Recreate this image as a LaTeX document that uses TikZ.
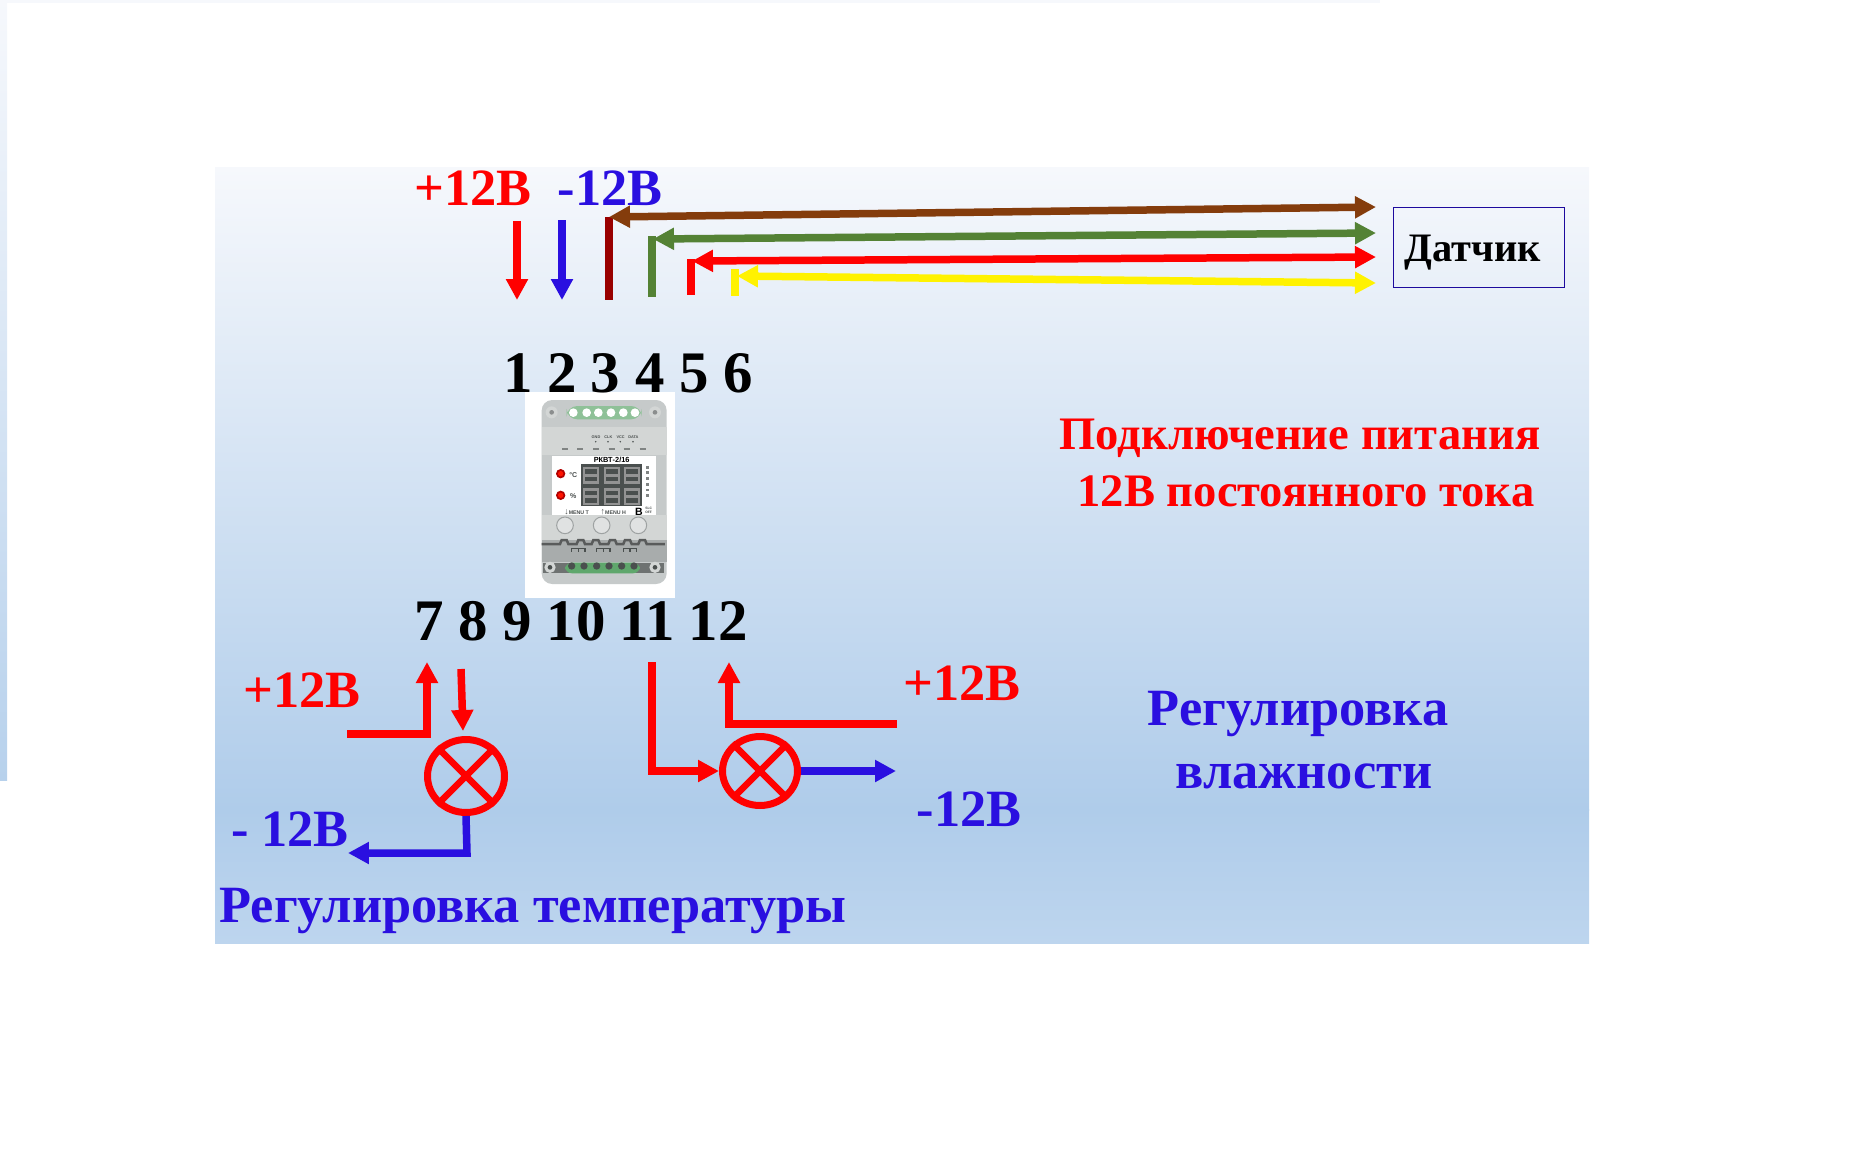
\documentclass[tikz,border=0pt]{standalone}
\usepackage{fontspec}
\setmainfont{Liberation Serif}
\newfontfamily\devfont{Liberation Sans}
\usetikzlibrary{arrows.meta,shapes.geometric}
\definecolor{wireblue}{HTML}{2A0FE0}
\definecolor{wirebrown}{HTML}{843C0C}
\definecolor{wiredark}{HTML}{990000}
\definecolor{wiregreen}{HTML}{548235}
\definecolor{paneltop}{HTML}{F6F8FC}
\definecolor{panelmid}{HTML}{AFCCEA}
\definecolor{panelend}{HTML}{BDD5EE}
\definecolor{devgrey}{HTML}{C6CACA}
\definecolor{devlight}{HTML}{D3D6D5}
\definecolor{devdark}{HTML}{4A4F4E}
\definecolor{devgreen}{HTML}{5FA76C}
\tikzset{
  wire/.style={line width=0.15cm},
  onehead/.style={wire,-{Triangle[length=0.42cm,width=0.42cm]}},
  twohead/.style={wire,{Triangle[length=0.42cm,width=0.42cm]}-{Triangle[length=0.42cm,width=0.42cm]}},
  volt/.style={anchor=base,inner sep=0pt,font=\bfseries\fontsize{29.8}{36}\selectfont},
  power/.style={anchor=base,inner sep=0pt,red,font=\bfseries\fontsize{26.5}{32}\selectfont},
  pinlabel/.style={anchor=base,inner sep=0pt,font=\bfseries\fontsize{33.5}{38}\selectfont},
  lamp/.style={ellipse,draw=red,line width=0.14cm,inner sep=0pt},
  lampcross/.style={draw=red,line width=0.13cm},
  seg/.style={draw=gray!85!white,line width=0.5mm},
  devtext/.style={inner sep=0pt,font=\devfont\bfseries\fontsize{#1}{#1}\selectfont},
}
\begin{document}
\begin{tikzpicture}[x=0.02cm,y=-0.02cm]
  \useasboundingbox (0,0) rectangle (1854,1154);

  \fill[paneltop] (0,0) rectangle (1380,3);
  \shade[top color=paneltop,bottom color=panelmid!90!white] (0,0) rectangle (7,780);
  \shade[top color=paneltop,bottom color=panelmid] (215,167) rectangle (1589,810);
  \shade[top color=panelmid,bottom color=panelend] (215,809) rectangle (1589,943);

  \begin{scope}[shift={(510,380)},x=0.02cm/3,y=-0.02cm/3]
    \fill[white] (45,35) rectangle (495,655);
    \fill[devgrey,rounded corners=6pt] (95,60) rectangle (470,612);
    \fill[devlight] (95,140) rectangle (470,225);
    \fill[devlight] (95,405) rectangle (470,480);
    \fill[devgrey!85!black] (95,480) rectangle (470,545);
    \fill[devgreen!70!white,rounded corners=6pt] (170,78) rectangle (395,118);
    \foreach \x in {190,230,265,303,340,375}
      \fill[white] (\x,98) circle (13);
    \foreach \x in {125,435} {
      \fill[devlight] (\x,97) circle (18);
      \fill[devgrey!70!black] (\x,97) circle (7);
    }
    \foreach \x in {165,210,258,305,350,398}
      \draw[devdark!70!white,line width=0.3mm] (\x-9,207) -- (\x+9,207);
    \foreach \x/\lab in {258/GND,295/CLK,332/VCC,370/DATA} {
      \node[devtext=2.2,devdark] (pad\lab) at (\x,170) {\lab};
      \fill[devdark] (\x-1,185) circle (2.5);
    }
    \fill[white] (125,228) rectangle (438,405);
    \node[devtext=4.2] (model) at (305,241) {РКВТ-2/16};
    \fill[devdark] (213,253) rectangle (395,378);
    \foreach \x in {222,285,345}
      \foreach \y in {264,328} {
        \draw[seg] (\x,\y) rectangle ++(42,44);
        \draw[seg] (\x,\y+22) -- ++(42,0);
      }
    \foreach \y in {281,346} {
      \fill[red!70!black] (152,\y) circle (14);
      \fill[red!85!orange] (152,\y) circle (8);
    }
    \node[devtext=4,devdark] (degree) at (190,284) {°C};
    \node[devtext=4,devdark] (percent) at (190,347) {\%};
    \foreach \y in {262,278,296,314,330,346}
      \fill[devdark!70!white] (407,\y-4) rectangle (418,\y+4);
    \node[devtext=3,devdark] (menuT) at (200,395) {{\fontsize{5}{5}\selectfont ↓}MENU T};
    \node[devtext=3,devdark] (menuH) at (310,395) {{\fontsize{5}{5}\selectfont ↑}MENU H};
    \node[devtext=6] (modeB) at (387,395) {B};
    \node[devtext=1.9,devdark,align=left] (modeoff) at (416,391) {SLC\\OFF};
    \foreach \x in {165,275,385} {
      \fill[devlight!70!white] (\x,436) circle (25);
      \draw[devgrey!80!black,line width=0.2mm] (\x,436) circle (25);
    }
    \draw[devgrey!45!black,line width=0.5mm] (95,492) -- (150,492) -- (155,480) -- (170,480) -- (175,492) -- (200,492) -- (205,480) -- (220,480) -- (225,492)
      -- (245,492) -- (250,480) -- (265,480) -- (270,492) -- (295,492) -- (300,480) -- (315,480) -- (320,492) -- (340,492) -- (345,480) -- (360,480) -- (365,492)
      -- (385,492) -- (390,480) -- (405,480) -- (410,492) -- (465,492);
    \foreach \x in {205,280,360}
      \draw[devdark,line width=0.3mm] (\x-20,505) -- (\x+20,505) (\x-20,505) -- (\x-20,515) (\x,505) -- (\x,515) (\x+20,505) -- (\x+20,515);
    \fill[devdark!80!white] (100,548) rectangle (462,578);
    \fill[devgreen,rounded corners=4pt] (165,548) rectangle (390,580);
    \foreach \x in {185,222,260,297,335,372}
      \fill[devdark] (\x,558) circle (11);
    \foreach \x in {120,435} {
      \fill[devlight] (\x,562) circle (17);
      \fill[devdark] (\x,562) circle (7);
    }
  \end{scope}

  \node[volt,red] (topplus) at (473,205) {+12В};
  \node[volt,wireblue] (topminus) at (610,205) {-12В};
  \foreach \n/\x in {1/518,2/562,3/605,4/650,5/694,6/738}
    \node[pinlabel] (pin\n) at (\x,392) {\n};
  \foreach \n/\x in {7/429,8/473,9/517,10/576,11/647,12/718}
    \node[pinlabel] (pin\n) at (\x,640) {\n};

  \node[draw=wireblue!70!black,line width=0.2mm,minimum width=3.44cm,minimum height=1.6cm,inner sep=0pt] (sensor) at (1479,247) {};
  \node[inner sep=0pt,font=\bfseries\fontsize{23}{28}\selectfont,anchor=base] (sensortext) at (1473,261) {Датчик};

  \node[power] (powerA) at (1300,449) {Подключение питания};
  \node[power] (powerB) at (1306,506) {12В постоянного тока};
  \node[volt,wireblue] (humA) at (1298,725) {Регулировка};
  \node[volt,wireblue] (humB) at (1304,788) {влажности};
  \node[volt,wireblue] (tempcap) at (533,922) {Регулировка температуры};

  \node[volt,red] (leftplus) at (302,707) {+12В};
  \node[volt,wireblue] (leftminus) at (290,846) {- 12В};
  \node[volt,red] (rightplus) at (962,700) {+12В};
  \node[volt,wireblue] (rightminus) at (969,826) {-12В};

  \coordinate (plusA) at (517,221);
  \coordinate (plusB) at (517,300);
  \coordinate (minusA) at (562,220);
  \coordinate (minusB) at (562,300);
  \coordinate (brownbarA) at (609,217);
  \coordinate (brownbarB) at (609,300);
  \coordinate (brownend) at (1376,207);
  \coordinate (greenbarA) at (652,236);
  \coordinate (greenbarB) at (652,297);
  \coordinate (greentip) at (653,239);
  \coordinate (greenend) at (1376,233);
  \coordinate (redbarA) at (691,259);
  \coordinate (redbarB) at (691,295);
  \coordinate (redtip) at (692,261);
  \coordinate (redend) at (1376,257);
  \coordinate (yellowbarA) at (735,269);
  \coordinate (yellowbarB) at (735,296);
  \coordinate (yellowtip) at (737,276);
  \coordinate (yellowend) at (1376,283);

  \draw[onehead,red] (plusA) -- (plusB);
  \draw[onehead,wireblue] (minusA) -- (minusB);
  \draw[wire,wiredark] (brownbarA) -- (brownbarB);
  \draw[twohead,wirebrown] (brownbarA) -- (brownend);
  \draw[wire,wiregreen] (greenbarA) -- (greenbarB);
  \draw[twohead,wiregreen] (greentip) -- (greenend);
  \draw[wire,red] (redbarA) -- (redbarB);
  \draw[twohead,red] (redtip) -- (redend);
  \draw[wire,yellow] (yellowbarA) -- (yellowbarB);
  \draw[twohead,yellow] (yellowtip) -- (yellowend);

  \node[lamp,minimum width=1.54cm,minimum height=1.46cm] (lampT) at (466,776) {};
  \node[lamp,minimum width=1.5cm,minimum height=1.38cm] (lampH) at (760,771) {};
  \draw[lampcross] (lampT.45) -- (lampT.225);
  \draw[lampcross] (lampT.135) -- (lampT.315);
  \draw[lampcross] (lampH.45) -- (lampH.225);
  \draw[lampcross] (lampH.135) -- (lampH.315);

  \coordinate (tempin) at (347,734);
  \coordinate (tempcorner) at (427,734);
  \coordinate (temptip) at (427,662);
  \coordinate (tempdownA) at (461,669);
  \coordinate (tempdownB) at (463,731);
  \coordinate (tempcornerB) at (467,853);
  \coordinate (tempout) at (348,853);
  \coordinate (humstart) at (652,662);
  \coordinate (humcorner) at (652,771);
  \coordinate (humout) at (896,771);
  \coordinate (huminA) at (897,724);
  \coordinate (huminB) at (729,724);
  \coordinate (huminC) at (729,662);

  \draw[onehead,red] (tempin) -- (tempcorner) -- (temptip);
  \draw[onehead,red] (tempdownA) -- (tempdownB);
  \draw[onehead,wireblue] (lampT.south) -- (tempcornerB) -- (tempout);
  \draw[onehead,red] (humstart) -- (humcorner) -- (lampH.west);
  \draw[onehead,wireblue] (lampH.east) -- (humout);
  \draw[onehead,red] (huminA) -- (huminB) -- (huminC);
\end{tikzpicture}
\end{document}
